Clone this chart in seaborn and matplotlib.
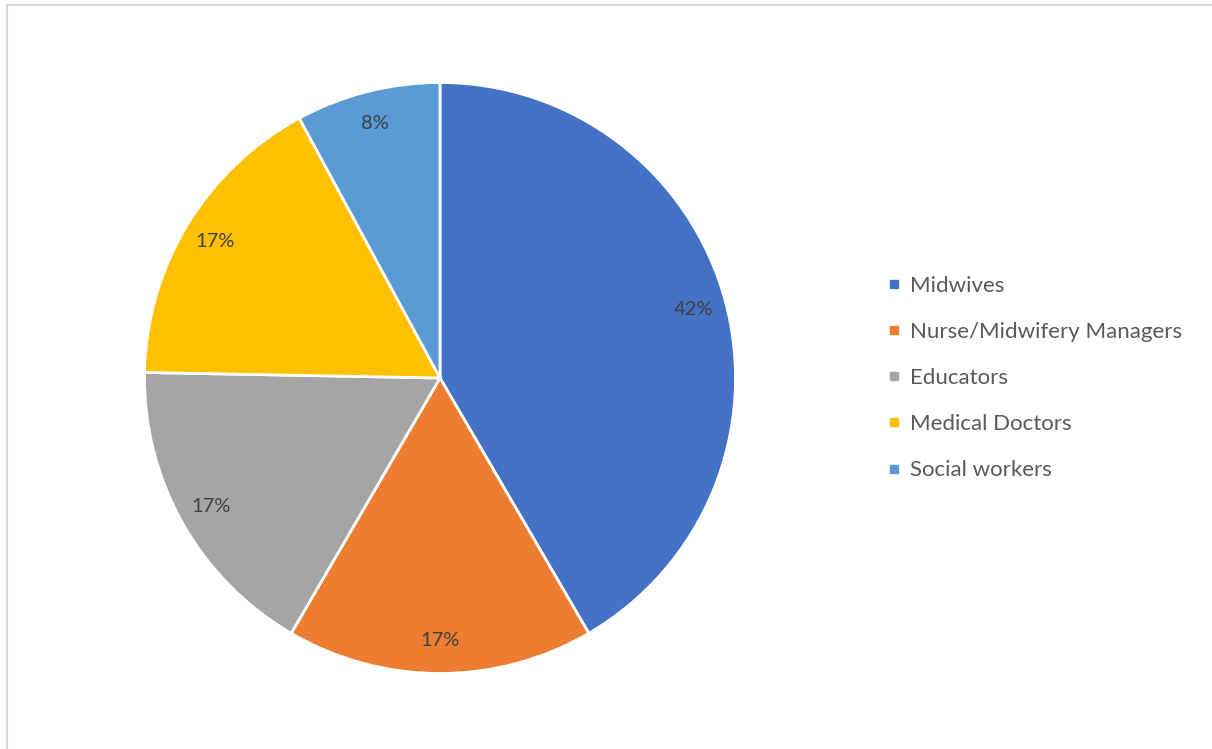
import matplotlib
matplotlib.use("Agg")
import matplotlib.pyplot as plt
from matplotlib.lines import Line2D
from matplotlib.patches import Rectangle
import seaborn as sns

categories = ["Midwives", "Nurse/Midwifery Managers", "Educators", "Medical Doctors", "Social workers"]
shares = [41.6, 16.8, 16.9, 16.8, 7.9]
colors = ["#4472C4", "#ED7D31", "#A5A5A5", "#FFC000", "#5B9BD5"]

sns.set_theme(style="white")
plt.rcParams["font.family"] = ["Lato", "DejaVu Sans"]

W, H = 1212, 749
fig = plt.figure(figsize=(W / 100, H / 100), dpi=100)
ax = fig.add_axes([0, 0, 1, 1])

cx, cy, r = 440, H - 378, 295.5
wedges, texts, autotexts = ax.pie(
    shares,
    colors=colors,
    startangle=90,
    counterclock=False,
    center=(cx, cy),
    radius=r,
    autopct=lambda p: f"{p:.0f}%",
    pctdistance=0.89,
    wedgeprops=dict(edgecolor="white", linewidth=2),
    textprops=dict(color="#404040", fontsize=14.5),
    frame=True,
)
ax.set_xlim(0, W)
ax.set_ylim(0, H)
ax.set_aspect("equal")
ax.axis("off")

# chart border (partly visible)
ax.add_patch(Rectangle((6.5, -20), W + 50, H - 4.5 + 20, fill=False, edgecolor="#D9D9D9", linewidth=1.5))

handles = [Line2D([0], [0], marker="s", linestyle="", markersize=6, markerfacecolor=c, markeredgecolor=c) for c in colors]
leg = fig.legend(handles, categories, loc="center left", bbox_to_anchor=(885 / W, 1 - 378 / H),
                 frameon=False, fontsize=16, handlelength=0.8, handletextpad=0.33, labelspacing=1.18,
                 borderaxespad=0, borderpad=0)
for t in leg.get_texts():
    t.set_color("#595959")

fig.savefig("out.png", dpi=100, facecolor="white")
